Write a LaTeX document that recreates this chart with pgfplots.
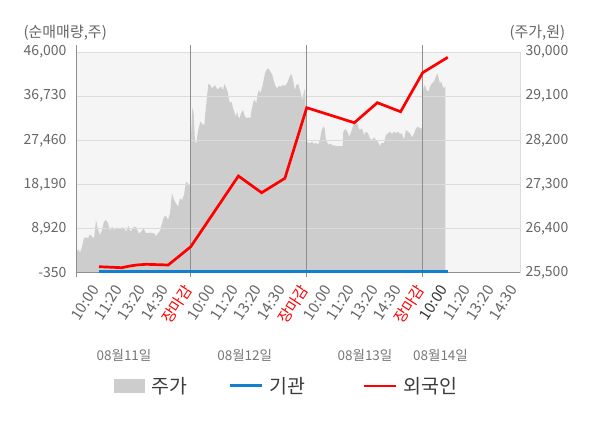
\documentclass[border=0pt]{standalone}
\usepackage{pgfplots}
\pgfplotsset{compat=1.18}
\usepackage{fontspec}
\setmainfont{Noto Sans CJK KR}
\definecolor{bgc}{HTML}{F5F5F5}
\definecolor{areac}{HTML}{CDCDCD}
\definecolor{gridc}{HTML}{DCDCDC}
\definecolor{dayc}{HTML}{8E8E8E}
\definecolor{labc}{HTML}{666666}
\definecolor{datec}{HTML}{777777}
\definecolor{darkc}{HTML}{333333}
\definecolor{legc}{HTML}{3C3C3C}
\definecolor{bluec}{HTML}{1380CC}
\definecolor{redc}{HTML}{FF0000}
\newcommand{\fs}[1]{\fontsize{#1}{#1}\selectfont}
\pgfplotsset{
  lineleg/.style={legend image code/.code={\draw[##1] (0pt,0pt) -- (32pt,0pt);}},
  boxleg/.style={legend image code/.code={\fill[##1] (0pt,-7pt) rectangle (31pt,7pt);}},
}
\begin{document}
\begin{tikzpicture}
\path[use as bounding box] (0pt,0pt) rectangle (600pt,428pt);
\begin{axis}[
  at={(76pt,155.3pt)}, anchor=south west,
  scale only axis, width=444pt, height=220.7pt,
  xmin=0.08, xmax=19.19, ymin=25500, ymax=30000,
  axis x line=none, axis y line*=right,
  y axis line style={draw=gridc, -},
  axis background/.style={fill=bgc},
  scaled y ticks=false,
  ytick={25500,26400,27300,28200,29100,30000},
  yticklabels={{25,500},{26,400},{27,300},{28,200},{29,100},{30,000}},
  major tick length=0pt,
  yticklabel style={font=\fs{14pt}, color=labc, anchor=west, xshift=2pt},
]
\addplot[fill=areac, draw=none] coordinates {
(0.08,25500)
(0.08,25841) (0.168,25983) (0.254,25908) (0.34,26030) (0.426,26214) (0.612,26214) (0.684,26283) (0.77,26234) (0.856,26201) (0.942,26575) (1.028,26385) (1.114,26263) (1.2,26371) (1.287,26540) (1.373,26575) (1.459,26507) (1.545,26356) (1.631,26438) (1.717,26371) (1.832,26418) (1.975,26405) (2.118,26425) (2.233,26336) (2.333,26452) (2.434,26336) (2.548,26425) (2.663,26438) (2.778,26303) (2.893,26336) (2.979,26405) (3.094,26303) (3.266,26316) (3.438,26303) (3.524,26248) (3.61,26303) (3.696,26356) (3.782,26507) (3.868,26642) (3.954,26656) (4.04,26575) (4.126,26711) (4.212,27119) (4.298,26982) (4.384,26915) (4.47,26846) (4.556,27017) (4.642,26982) (4.728,27084) (4.815,27356) (4.9,27323) (4.987,27255)
(5.03,28273) (5.088,28872) (5.145,28750) (5.202,28171) (5.26,28138) (5.317,28342) (5.374,28477) (5.432,28579) (5.518,28532) (5.604,28512) (5.661,28818) (5.719,29089) (5.776,29348) (5.862,29327) (5.92,29260) (6.006,29293) (6.063,29327) (6.149,29240) (6.235,29260) (6.321,29293) (6.407,29225) (6.464,29348) (6.522,29293) (6.608,29191) (6.665,29021) (6.722,28954) (6.78,28987) (6.837,28852) (6.894,28783) (6.952,28681) (7.009,28783) (7.067,28681) (7.124,28648) (7.182,28750) (7.268,28818) (7.325,28716) (7.411,28648) (7.497,28669) (7.583,28648) (7.641,28818) (7.698,28954) (7.755,29035) (7.841,28954) (7.899,29158) (7.956,29225) (8.013,29158) (8.099,29293) (8.157,29429) (8.214,29566) (8.271,29633) (8.357,29668) (8.444,29599) (8.53,29531) (8.587,29429) (8.645,29327) (8.731,29260) (8.817,29307) (8.903,29293) (8.989,29327) (9.075,29307) (9.161,29362) (9.247,29464) (9.333,29552) (9.39,29497) (9.448,29362) (9.505,29225) (9.562,29327) (9.648,29348) (9.735,29191) (9.821,29021) (9.878,29158) (9.935,29260)
(10.007,28171) (10.15,28138) (10.237,28171) (10.323,28124) (10.409,28151) (10.495,28104) (10.581,28206) (10.638,28375) (10.724,28477) (10.782,28444) (10.839,28206) (10.896,28151) (10.954,28104) (11.011,28138) (11.097,28104) (11.298,28083) (11.556,28083) (11.585,28375) (11.671,28430) (11.757,28375) (11.843,28273) (11.929,28375) (12.015,28512) (12.101,28579) (12.187,28546) (12.245,28444) (12.302,28410) (12.388,28444) (12.474,28308) (12.56,28375) (12.646,28342) (12.732,28240) (12.818,28206) (12.904,28260) (12.99,28206) (13.077,28171) (13.163,28083) (13.249,28151) (13.335,28138) (13.421,28308) (13.507,28342) (13.593,28375) (13.679,28328) (13.765,28375) (13.851,28342) (13.937,28375) (14.023,28328) (14.11,28342) (14.196,28206) (14.282,28410) (14.368,28375) (14.454,28342) (14.54,28260) (14.626,28328) (14.712,28444) (14.798,28477) (14.884,28444) (14.97,28444)
(15.027,29260) (15.085,29327) (15.171,29225) (15.257,29191) (15.314,29293) (15.4,29362) (15.486,29395) (15.544,29464) (15.63,29566) (15.686,29464) (15.744,29362) (15.801,29395) (15.859,29307) (15.916,29260) (15.973,29293)
(15.973,25500)
};
\end{axis}
\begin{axis}[
  at={(76pt,155.3pt)}, anchor=south west,
  scale only axis, width=444pt, height=220.7pt,
  xmin=0.08, xmax=19.19, ymin=-350, ymax=46000,
  axis x line*=bottom, axis y line*=left,
  x axis line style={draw=dayc, -}, y axis line style={draw=dayc, -},
  scaled y ticks=false, scaled x ticks=false,
  ytick={-350,8920,18190,27460,36730,46000},
  yticklabels={-350,{8,920},{18,190},{27,460},{36,730},{46,000}},
  ymajorgrids, grid style={draw=gridc, line width=0.8pt},
  xtick={1,2,...,19},
  xticklabels={10:00,11:20,13:20,14:30,\textcolor{redc}{장마감},10:00,11:20,13:20,14:30,\textcolor{redc}{장마감},10:00,11:20,13:20,14:30,\textcolor{redc}{장마감},\textcolor{darkc}{10:00},11:20,13:20,14:30},
  major tick length=0pt,
  yticklabel style={font=\fs{14pt}, color=labc, anchor=east, xshift=-6pt},
  xticklabel style={font=\fs{15pt}, color=labc, yshift=-14pt, xshift=-2pt, rotate=57, anchor=east, inner sep=0pt},
  clip=false,
  legend columns=3,
  legend style={at={(0.079,-0.513)}, anchor=west, draw=none, fill=none,
    font=\fs{19.5pt}, text=legc,
    /tikz/every odd column/.append style={column sep=4pt},
    /tikz/every even column/.append style={column sep=39pt}},
]
\draw[dayc, line width=0.8pt] ([yshift=-4pt]axis cs:0.08,-350) -- ([yshift=7pt]axis cs:0.08,46000);
\draw[dayc, line width=0.8pt] ([yshift=-4pt]axis cs:5,-350) -- ([yshift=7pt]axis cs:5,46000);
\draw[dayc, line width=0.8pt] ([yshift=-4pt]axis cs:10,-350) -- ([yshift=7pt]axis cs:10,46000);
\draw[dayc, line width=0.8pt] ([yshift=-4pt]axis cs:15,-350) -- ([yshift=7pt]axis cs:15,46000);
\addlegendimage{boxleg, fill=areac, draw=none}
\addlegendentry{주가}
\addplot[bluec, line width=3pt, lineleg] coordinates {
(1.07,0) (4.05,0) (5.02,0) (7.07,0) (10.01,0) (13.05,0) (15.0,0) (16.08,0)
};
\addlegendentry{기관\rule{17pt}{0pt}}
\addplot[redc, line width=2.7pt, lineleg] coordinates {
(1.07,910) (2.05,700) (2.4,1057) (2.69,1267) (3.09,1414) (4.05,1267) (5.02,5110) (7.07,19957) (8.07,16450) (9.07,19474) (10.01,34300) (12.06,31150) (13.05,35350) (14.05,33460) (15.0,41650) (16.08,44884)
};
\addlegendentry{외국인}
\end{axis}
\node[anchor=west, font=\fs{15pt}, text=labc] at (20pt,395pt) {(순매매량,주)};
\node[anchor=west, font=\fs{15pt}, text=labc] at (506pt,395pt) {(주가,원)};
\node[font=\fs{13.5pt}, text=datec] at (124pt,73pt) {08월11일};
\node[font=\fs{13.5pt}, text=datec] at (244.7pt,73pt) {08월12일};
\node[font=\fs{13.5pt}, text=datec] at (365pt,73pt) {08월13일};
\node[font=\fs{13.5pt}, text=datec] at (440.5pt,73pt) {08월14일};
\end{tikzpicture}
\end{document}
